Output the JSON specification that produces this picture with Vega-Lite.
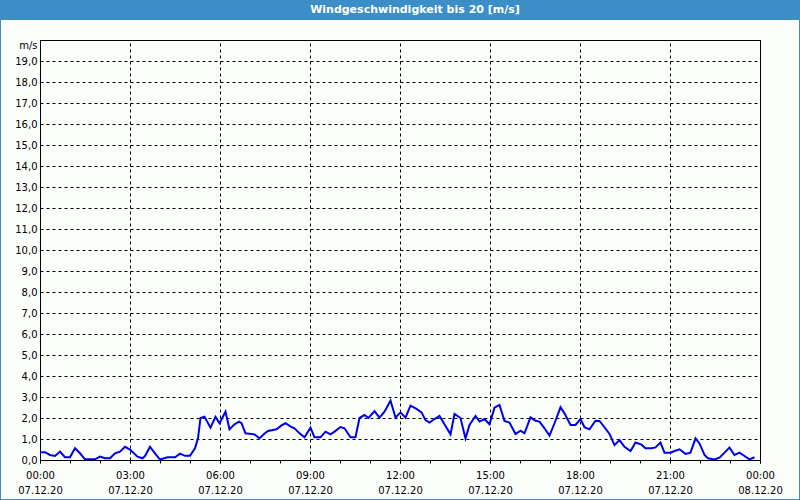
{
  "$schema": "https://vega.github.io/schema/vega-lite/v6.json",
  "width": 798,
  "height": 479,
  "autosize": {"type": "none"},
  "padding": {"left": 1, "top": 20, "right": 1, "bottom": 1},
  "background": "#3B8EC6",
  "title": {"text": "Windgeschwindigkeit bis 20 [m/s]", "color": "#FFFFFF", "font": "DejaVu Sans", "fontSize": 11, "fontWeight": "bold", "anchor": "middle", "align": "center", "offset": 5, "dx": 15},
  "config": {"view": {"fill": "#FBFDFB", "stroke": null}, "font": "DejaVu Sans", "title": {"dx": 15}},
  "resolve": {"axis": {"x": "independent", "y": "independent"}},
  "layer": [
    {
      "data": {"values": [
        {"min": 0, "v": 0.37}, {"min": 10, "v": 0.37}, {"min": 20, "v": 0.24}, {"min": 30, "v": 0.19}, {"min": 40, "v": 0.40},
        {"min": 50, "v": 0.13}, {"min": 60, "v": 0.13}, {"min": 70, "v": 0.56}, {"min": 80, "v": 0.32}, {"min": 90, "v": 0.03},
        {"min": 110, "v": 0.03}, {"min": 120, "v": 0.16}, {"min": 130, "v": 0.08}, {"min": 140, "v": 0.08}, {"min": 150, "v": 0.32},
        {"min": 160, "v": 0.40}, {"min": 170, "v": 0.63}, {"min": 180, "v": 0.50}, {"min": 195, "v": 0.16}, {"min": 205, "v": 0.08},
        {"min": 210, "v": 0.19}, {"min": 220, "v": 0.63}, {"min": 230, "v": 0.32}, {"min": 240, "v": 0.02}, {"min": 255, "v": 0.13},
        {"min": 270, "v": 0.13}, {"min": 280, "v": 0.30}, {"min": 290, "v": 0.20}, {"min": 300, "v": 0.20}, {"min": 310, "v": 0.56},
        {"min": 316, "v": 1.03}, {"min": 321, "v": 2.00}, {"min": 329, "v": 2.06}, {"min": 341, "v": 1.54}, {"min": 351, "v": 2.05},
        {"min": 359, "v": 1.75}, {"min": 371, "v": 2.30}, {"min": 379, "v": 1.46}, {"min": 389, "v": 1.70}, {"min": 398, "v": 1.83},
        {"min": 403, "v": 1.75}, {"min": 411, "v": 1.27}, {"min": 429, "v": 1.22}, {"min": 439, "v": 1.03}, {"min": 448, "v": 1.24},
        {"min": 456, "v": 1.38}, {"min": 473, "v": 1.46}, {"min": 483, "v": 1.65}, {"min": 491, "v": 1.75}, {"min": 503, "v": 1.57},
        {"min": 509, "v": 1.51}, {"min": 519, "v": 1.27}, {"min": 529, "v": 1.08}, {"min": 541, "v": 1.54}, {"min": 549, "v": 1.08},
        {"min": 561, "v": 1.08}, {"min": 571, "v": 1.35}, {"min": 581, "v": 1.22}, {"min": 589, "v": 1.35}, {"min": 601, "v": 1.57},
        {"min": 609, "v": 1.51}, {"min": 621, "v": 1.08}, {"min": 631, "v": 1.08}, {"min": 639, "v": 2.00}, {"min": 649, "v": 2.14},
        {"min": 657, "v": 2.00}, {"min": 669, "v": 2.33}, {"min": 679, "v": 2.02}, {"min": 689, "v": 2.30}, {"min": 701, "v": 2.83},
        {"min": 711, "v": 2.02}, {"min": 721, "v": 2.27}, {"min": 731, "v": 2.02}, {"min": 741, "v": 2.59}, {"min": 753, "v": 2.43},
        {"min": 763, "v": 2.27}, {"min": 771, "v": 1.90}, {"min": 779, "v": 1.78}, {"min": 789, "v": 1.95}, {"min": 799, "v": 2.10},
        {"min": 809, "v": 1.70}, {"min": 821, "v": 1.22}, {"min": 829, "v": 2.19}, {"min": 841, "v": 2.00}, {"min": 851, "v": 1.03},
        {"min": 859, "v": 1.67}, {"min": 871, "v": 2.10}, {"min": 879, "v": 1.83}, {"min": 889, "v": 1.95}, {"min": 899, "v": 1.70},
        {"min": 909, "v": 2.49}, {"min": 919, "v": 2.62}, {"min": 929, "v": 1.86}, {"min": 939, "v": 1.78}, {"min": 951, "v": 1.24},
        {"min": 961, "v": 1.40}, {"min": 969, "v": 1.27}, {"min": 981, "v": 2.03}, {"min": 991, "v": 1.87}, {"min": 999, "v": 1.83},
        {"min": 1009, "v": 1.51}, {"min": 1019, "v": 1.16}, {"min": 1029, "v": 1.75}, {"min": 1041, "v": 2.51}, {"min": 1049, "v": 2.22},
        {"min": 1061, "v": 1.67}, {"min": 1071, "v": 1.67}, {"min": 1081, "v": 1.95}, {"min": 1089, "v": 1.56}, {"min": 1099, "v": 1.46},
        {"min": 1111, "v": 1.87}, {"min": 1119, "v": 1.86}, {"min": 1129, "v": 1.56}, {"min": 1139, "v": 1.24}, {"min": 1149, "v": 0.71},
        {"min": 1159, "v": 0.95}, {"min": 1169, "v": 0.63}, {"min": 1181, "v": 0.43}, {"min": 1191, "v": 0.83}, {"min": 1203, "v": 0.73},
        {"min": 1211, "v": 0.56}, {"min": 1223, "v": 0.56}, {"min": 1231, "v": 0.60}, {"min": 1241, "v": 0.83}, {"min": 1249, "v": 0.35},
        {"min": 1261, "v": 0.35}, {"min": 1269, "v": 0.43}, {"min": 1279, "v": 0.51}, {"min": 1291, "v": 0.29}, {"min": 1301, "v": 0.35},
        {"min": 1311, "v": 1.03}, {"min": 1319, "v": 0.79}, {"min": 1329, "v": 0.24}, {"min": 1336, "v": 0.08}, {"min": 1349, "v": 0.03},
        {"min": 1359, "v": 0.11}, {"min": 1371, "v": 0.40}, {"min": 1379, "v": 0.59}, {"min": 1389, "v": 0.24}, {"min": 1399, "v": 0.35},
        {"min": 1409, "v": 0.19}, {"min": 1419, "v": 0.03}, {"min": 1429, "v": 0.13}
      ]},
      "mark": {"type": "line", "color": "#0000E8", "strokeWidth": 2},
      "encoding": {
        "x": {
          "field": "min", "type": "quantitative",
          "scale": {"domain": [0, 1440], "range": [39, 759], "nice": false, "zero": false},
          "axis": {
            "orient": "bottom", "offset": -39, "title": null,
            "values": [0, 180, 360, 540, 720, 900, 1080, 1260, 1440],
            "grid": false,
            "domain": true, "domainColor": "#000000", "domainWidth": 1,
            "ticks": true, "tickColor": "#000000", "tickSize": 3, "tickWidth": 1,
            "labelExpr": "[(datum.value >= 1440 ? '00' : (datum.value < 600 ? '0' : '') + (datum.value / 60)) + ':00', datum.value >= 1440 ? '08.12.20' : '07.12.20']",
            "labelFont": "DejaVu Sans", "labelFontSize": 10, "labelColor": "#000000",
            "labelPadding": 7, "labelLineHeight": 15, "labelFlush": false, "labelOverlap": false, "labelBound": false
          }
        },
        "y": {
          "field": "v", "type": "quantitative",
          "scale": {"domain": [0, 20], "range": [440, 20], "nice": false},
          "axis": {
            "orient": "left", "offset": -39, "title": null,
            "values": [0, 1, 2, 3, 4, 5, 6, 7, 8, 9, 10, 11, 12, 13, 14, 15, 16, 17, 18, 19],
            "grid": true, "gridColor": "#000000", "gridDash": [3, 3], "gridWidth": 1, "gridOpacity": 1,
            "domain": true, "domainColor": "#000000", "domainWidth": 1,
            "ticks": false,
            "labelExpr": "replace(format(datum.value, '.1f'), '.', ',')",
            "labelBaseline": "middle",
            "labelFont": "DejaVu Sans", "labelFontSize": 10, "labelColor": "#000000",
            "labelPadding": 3, "labelFlush": false, "labelOverlap": false, "labelBound": false
          }
        }
      }
    },
    {
      "data": {"values": [{}]},
      "mark": {"type": "rule", "color": "#000000", "strokeWidth": 1, "yOffset": 0.5},
      "encoding": {
        "x": {
          "datum": 0, "type": "quantitative",
          "axis": {
            "orient": "bottom", "offset": -39, "title": null,
            "values": [0, 60, 120, 180, 240, 300, 360, 420, 480, 540, 600, 660, 720, 780, 840, 900, 960, 1020, 1080, 1140, 1200, 1260, 1320, 1380, 1440],
            "labels": false, "grid": false, "domain": false,
            "ticks": true, "tickColor": "#000000", "tickSize": 3, "tickWidth": 1
          }
        },
        "x2": {"datum": 1440},
        "y": {"datum": 20, "type": "quantitative", "axis": null}
      }
    },
    {
      "data": {"values": [{}]},
      "mark": {"type": "rule", "color": "#000000", "strokeWidth": 1, "xOffset": 0.5},
      "encoding": {
        "x": {
          "datum": 1440, "type": "quantitative",
          "axis": {
            "orient": "top", "offset": -20, "title": null,
            "values": [180, 360, 540, 720, 900, 1080, 1260],
            "labels": false, "ticks": false, "domain": false,
            "grid": true, "gridColor": "#000000", "gridDash": [3, 3], "gridWidth": 1, "gridOpacity": 1
          }
        },
        "y": {
          "datum": 0, "type": "quantitative",
          "axis": {
            "orient": "left", "offset": -39, "title": null,
            "values": [20],
            "grid": false, "domain": false, "ticks": false,
            "labelExpr": "'m/s'",
            "labelBaseline": "top",
            "labelFont": "DejaVu Sans", "labelFontSize": 10, "labelColor": "#000000",
            "labelPadding": 3, "labelFlush": false, "labelOverlap": false, "labelBound": false
          }
        },
        "y2": {"datum": 20}
      }
    }
  ]
}
